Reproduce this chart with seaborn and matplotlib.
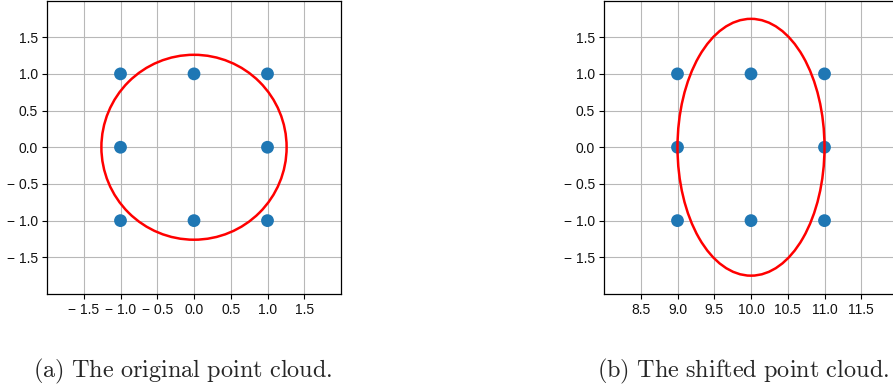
import numpy as np
import pandas as pd
import matplotlib
matplotlib.use("Agg")
import matplotlib.pyplot as plt
from matplotlib.patches import Ellipse
import seaborn as sns

# ---- data ----
pts_x = [-1, 0, 1, -1, 1, -1, 0, 1]
pts_y = [1, 1, 1, 0, 0, -1, -1, -1]
shift_x = 10
circle_center = (0.0, 0.0)
circle_radius = 1.26
ellipse_center = (10.0, 0.0)
ellipse_half_w = 1.0
ellipse_half_h = 1.75

left_xticks = [-1.5, -1.0, -0.5, 0.0, 0.5, 1.0, 1.5]
left_xticklabels = ["− 1.5", "− 1.0", "− 0.5", "0.0", "0.5", "1.0", "1.5"]
right_xticks = [8.5, 9.0, 9.5, 10.0, 10.5, 11.0, 11.5]
right_xticklabels = ["8.5", "9.0", "9.5", "10.0", "10.5", "11.0", "11.5"]
yticks = [-1.5, -1.0, -0.5, 0.0, 0.5, 1.0, 1.5]
yticklabels = ["− 1.5", "− 1.0", "− 0.5", "0.0", "0.5", "1.0", "1.5"]
captions = ["(a) The original point cloud.", "(b) The shifted point cloud."]

df_orig = pd.DataFrame({"x": pts_x, "y": pts_y})
df_shift = pd.DataFrame({"x": [v + shift_x for v in pts_x], "y": pts_y})

sns.set_theme(style="ticks")
plt.rcParams["font.family"] = ["Liberation Sans", "DejaVu Sans"]
plt.rcParams["mathtext.fontset"] = "cm"

W, H = 893, 390
fig = plt.figure(figsize=(W / 100, H / 100), dpi=100)

def px_axes(left, top, width, height):
    return fig.add_axes([left / W, (H - top - height) / H, width / W, height / H])

ax1 = px_axes(47, 0.5, 294, 293.5)
ax2 = px_axes(604, 0.5, 294, 293.5)

def style(ax, xlim, xticks, xticklabels):
    ax.set_xlim(*xlim)
    ax.set_ylim(-2, 2)
    ax.set_xticks(xticks)
    ax.set_xticklabels(xticklabels)
    ax.set_yticks(yticks)
    ax.set_yticklabels(yticklabels)
    ax.grid(True, color="#b8b8b8", linewidth=0.8)
    ax.set_axisbelow(True)
    for s in ax.spines.values():
        s.set_color("black")
        s.set_linewidth(0.9)
    ax.tick_params(axis="both", labelsize=10, length=3.5, width=0.8,
                   color="black", labelcolor="#111111", pad=3)
    ax.set_xlabel("")
    ax.set_ylabel("")

sns.scatterplot(data=df_orig, x="x", y="y", ax=ax1, color="#1f77b4", s=85,
                edgecolor="none", zorder=3)
ax1.add_patch(Ellipse(circle_center, 2 * circle_radius, 2 * circle_radius,
                      fill=False, edgecolor="red", linewidth=1.8, zorder=4))
style(ax1, (-2, 2), left_xticks, left_xticklabels)

sns.scatterplot(data=df_shift, x="x", y="y", ax=ax2, color="#1f77b4", s=85,
                edgecolor="none", zorder=3)
ax2.add_patch(Ellipse(ellipse_center, 2 * ellipse_half_w, 2 * ellipse_half_h,
                      fill=False, edgecolor="red", linewidth=1.8, zorder=4))
style(ax2, (8, 12), right_xticks, right_xticklabels)

def mt(s):
    return "$\\mathrm{" + s.replace(" ", "\\ ") + "}$"

fig.text(33 / W, (H - 371) / H, mt(captions[0]), fontsize=17.5, va="center", ha="left")
fig.text(597 / W, (H - 371) / H, mt(captions[1]), fontsize=17.5, va="center", ha="left")

fig.savefig("out.png", dpi=100)
